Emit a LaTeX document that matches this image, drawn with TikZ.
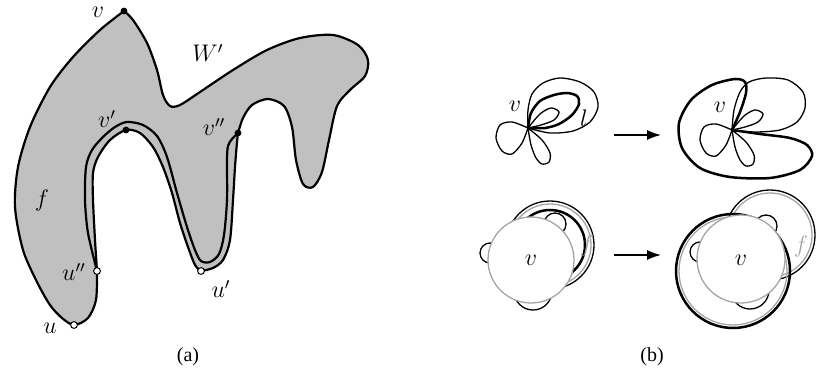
\documentclass[tikz,border=0pt]{standalone}
\usepackage{fontspec}
\setmainfont{Liberation Serif}
\usetikzlibrary{arrows.meta}
\definecolor{facegray}{RGB}{192,192,192}
\definecolor{ringgray}{RGB}{165,165,165}
\begin{document}
\begin{tikzpicture}[x=0.5pt,y=-0.5pt,
 outl/.style={line width=1.1pt,line join=round,line cap=round},
 lthin/.style={line width=0.65pt},
 lthick/.style={line width=1.25pt},
 gline/.style={draw=ringgray,line width=0.65pt},
 lab/.style={inner sep=0pt,font=\fontsize{12}{14}\selectfont},
 glab/.style={inner sep=0pt,font=\fontsize{12}{14}\selectfont,text=ringgray},
 bdot/.style={circle,fill=black,inner sep=0pt,minimum size=3.4pt},
 wdot/.style={circle,fill=white,draw=black,line width=0.5pt,inner sep=0pt,minimum size=3.4pt},
 arr/.style={line width=0.65pt,-{Latex[length=7pt,width=5pt]}},
 capt/.style={inner sep=0pt,font=\fontsize{10}{12}\selectfont}]
\useasboundingbox (0,0) rectangle (817,379);

% ---------- (a) ----------
\path[fill=facegray,draw=black,outl]
  plot[smooth] coordinates {(124,11) (133,20) (147,43) (157,70) (163,95) (170,106) (180,105) (200,92) (233,70) (267,50) (300,38) (333,35) (358,45) (368,60) (365,76) (350,90) (337,106) (329,140) (322,172) (313,187) (303,184) (296,160) (292,127) (284,106) (268,99) (252,105) (243,118) (238,133)}
  -- plot[smooth] coordinates {(238,133) (237,142) (235,167) (233,200) (230,240) (223,260) (213,268) (201,271)}
  -- plot[smooth] coordinates {(201,271) (195,265) (188,247) (180,223) (172,193) (163,167) (153,147) (140,133) (126,130) (110,140) (98,157) (93,173) (93,200) (95,240) (97,271)}
  -- plot[smooth] coordinates {(97,271) (96,300) (88,318) (74,325) (62,318) (50,305) (37,282) (23,250) (15,207) (18,167) (30,127) (50,87) (73,57) (100,30) (124,11)}
  -- cycle;
\draw[outl] plot[smooth] coordinates {(97,271) (88,233) (85,200) (86,167) (92,150) (103,137) (115,127) (127,122) (143,125) (157,136) (167,157) (177,193) (187,227) (195,250) (201,261) (210,262) (219,254) (224,235) (227,200) (227,160) (228,146) (232,139) (238,133)};

\node[bdot] (dv) at (124,11) {};
\node[bdot] (dvp) at (126,130) {};
\node[bdot] (dvpp) at (238,133) {};
\node[wdot] (dupp) at (97,271) {};
\node[wdot] (dup) at (201,271) {};
\node[wdot] (du) at (74,325) {};

\node[lab] (lv) at (98,12) {$v$};
\node[lab] (lW) at (208,53) {$W'$};
\node[lab] (lvp) at (107,119) {$v'$};
\node[lab] (lvpp) at (214,127) {$v''$};
\node[lab] (lf) at (42,200) {$f$};
\node[lab] (lupp) at (74,272) {$u''$};
\node[lab] (lup) at (221,289) {$u'$};
\node[lab] (lu) at (50,328) {$u$};
\node[capt] (ca) at (188,357) {(a)};

% ---------- (b) top left ----------
\draw[lthin] plot[smooth] coordinates {(528,128) (512,122) (500,125) (496,138) (502,151) (512,154) (522,143) (528,128)};
\draw[lthin] plot[smooth] coordinates {(528,128) (531,145) (536,158) (542,164) (549,162) (550,153) (542,140) (528,128)};
\draw[lthin] plot[smooth] coordinates {(528,128) (540,114) (551,108) (559,112) (554,120) (541,125) (528,128)};
\draw[lthick] plot[smooth] coordinates {(528,128) (531,113) (540,101) (554,95) (567,93) (577,96) (579,104) (572,115) (559,124) (545,128) (528,128)};
\draw[lthin] plot[smooth] coordinates {(528,128) (528,110) (532,94) (543,83) (560,78) (580,82) (594,92) (598,107) (590,122) (573,131) (550,133) (528,128)};
\node[lab] (tv1) at (515,106) {$v$};
\node[lab] (tl) at (584,118) {$l$};

\coordinate (a1s) at (614,135);
\coordinate (a1e) at (661,135);
\draw[arr] (a1s) -- (a1e);

% ---------- (b) top right ----------
\draw[lthin] plot[smooth] coordinates {(732,130) (716,124) (704,127) (700,140) (706,153) (716,156) (726,145) (732,130)};
\draw[lthin] plot[smooth] coordinates {(732,130) (735,147) (740,160) (746,166) (753,164) (754,155) (746,142) (732,130)};
\draw[lthin] plot[smooth] coordinates {(732,130) (744,116) (755,110) (763,114) (758,122) (745,127) (732,130)};
\draw[lthin] plot[smooth] coordinates {(732,130) (734,110) (740,92) (749,82) (766,78) (788,80) (803,92) (805,108) (797,122) (780,130) (755,132) (732,130)};
\draw[lthick] plot[smooth] coordinates {(732,130) (740,112) (746,93) (745,82) (735,79) (712,85) (691,100) (679,123) (682,148) (700,168) (730,177) (770,178) (800,170) (812,156) (807,145) (790,138) (760,134) (732,130)};
\node[lab] (tv2) at (720,107) {$v$};

% ---------- (b) bottom left ----------
\draw[lthin] (490,253) circle (5pt);
\draw[lthin] (533,291) circle (9.5pt);
\draw[lthin] (555,224) circle (5.5pt);
\draw[lthin] (550,245) circle (22pt);
\draw[gline] (550,245) circle (20.5pt);
\draw[lthick] (550,245) circle (17.5pt);
\node[glab] (bf1) at (587,245) {$f$};
\filldraw[fill=white,gline] (531,260) circle (21.5pt);
\node[lab] (bv1) at (531,260) {$v$};

\coordinate (a2s) at (614,255);
\coordinate (a2e) at (661,255);
\draw[arr] (a2s) -- (a2e);

% ---------- (b) bottom right ----------
\draw[lthin] (770,235) circle (22.5pt);
\draw[gline] (770,235) circle (21pt);
\draw[lthick] (733,271) circle (28.5pt);
\draw[gline] (733,271) circle (27pt);
\draw[lthin] (700,252) circle (5pt);
\draw[lthin] (750,290) circle (9.5pt);
\draw[lthin] (766,226) circle (5.5pt);
\node[glab] (bf2) at (801,246) {$f$};
\filldraw[fill=white,gline] (741,259) circle (22pt);
\node[lab] (bv2) at (741,260) {$v$};

\node[capt] (cb) at (652,357) {(b)};
\end{tikzpicture}
\end{document}
